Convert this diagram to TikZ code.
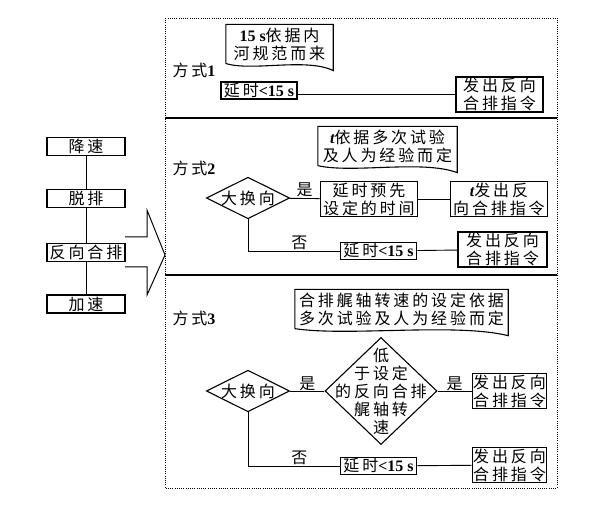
\documentclass[tikz,border=0pt]{standalone}
\usepackage{fontspec}
\setmainfont[LetterSpace=18]{Noto Sans CJK SC}
\newfontfamily\latfont{Liberation Serif}
\newcommand{\lat}[1]{{\latfont\bfseries #1}}
\usetikzlibrary{shapes.geometric, calc}

\tikzset{
  txt/.style={font=\fontsize{16}{18}\selectfont, align=center},
  box/.style={txt, draw, line width=1.3pt, inner xsep=3pt, inner ysep=1pt},
  sbox/.style={box, minimum width=78pt, minimum height=18pt, inner sep=0pt},
  decision/.style={draw, diamond, line width=1.1pt, inner sep=0pt},
  doc/.style={txt, minimum width=#1, inner ysep=3pt},
  link/.style={line width=0.9pt},
  frame/.style={line width=0.9pt, dash pattern=on 1pt off 1.2pt},
}

% outline of a document box (wavy bottom)
\newcommand{\docedge}[1]{%
  \draw[line width=1.1pt] (#1.south west) -- (#1.north west) -- (#1.north east)
    -- ([yshift=-7pt]#1.south east)
    .. controls ([yshift=6pt]$(#1.south)!0.5!(#1.south east)$)
    and ([yshift=-8pt]$(#1.south)!0.5!(#1.south west)$) .. (#1.south west);}

\begin{document}
\begin{tikzpicture}[x=1pt, y=-1pt]
\useasboundingbox (0,0) rectangle (595,505);

% steps of the manoeuvre
\node[sbox] (dec) at (86,146.5) {降速};
\node[sbox] (off) at (86,198.5) {脱排};
\node[sbox] (rev) at (86,252.5) {反向合排};
\node[sbox] (acc) at (86,304) {加速};
\draw[link] (dec) -- (off);
\draw[link] (off) -- (rev);
\draw[link] (rev) -- (acc);

% big arrow
\draw[line width=1pt] (125,237) -- (147,237) -- (147,210) -- (165,255)
  -- (147,295) -- (147,267) -- (125,267);

% frame
\draw[frame] (165,18) rectangle (557,488);
\draw[line width=1.5pt] (165,118) -- (557,118);
\draw[line width=1.5pt] (165,275) -- (557,275);

% Mode 1
\node[txt] (m1) at (194,70) {方式\lat{1}};
\node[doc=107pt] (n1) at (279.5,44) {\lat{15 s}依据内\\河规范而来};
\docedge{n1}
\node[box] (d1) at (259,90.5) {延时\lat{<15 s}};
\node[box, minimum width=87pt] (o1) at (499.5,94.5) {发出反向\\合排指令};
\draw[link] (o1.west) -- (o1.west -| d1.east);

% Mode 2
\node[txt] (m2) at (194,168) {方式\lat{2}};
\node[doc=139pt] (n2) at (387.5,146) {\lat{\itshape t}依据多次试验\\及人为经验而定};
\docedge{n2}
\node[decision, txt, aspect=2] (q2) at (248,198) {大换向};
\node[box] (p2) at (369,199) {延时预先\\设定的时间};
\node[box] (s2) at (499,199) {\lat{\itshape t}发出反\\向合排指令};
\draw[link] (q2) -- node[txt, above, inner sep=1pt] {是} (p2);
\draw[link] (p2) -- (s2);
\node[box] (d2) at (378.5,251) {延时\lat{<15 s}};
\node[box, minimum width=89pt] (o2) at (502.5,249.5) {发出反向\\合排指令};
\draw[link] (q2.south) |- node[txt, pos=0.78, above, inner sep=1pt] {否} (d2.west);
\draw[link] (d2) -- (o2);

% Mode 3
\node[txt] (m3) at (194,318) {方式\lat{3}};
\node[doc=213pt] (n3) at (401.5,309) {合排艉轴转速的设定依据\\多次试验及人为经验而定};
\docedge{n3}
\node[decision, txt, aspect=2] (q3) at (248,391) {大换向};
\node[decision, minimum width=112pt, minimum height=107pt,
  label={[txt]center:低\\于设定\\的反向合排\\艉轴转\\速}] (spd) at (381,391) {};
\node[box, inner xsep=1pt] (o3) at (509.5,391) {发出反向\\合排指令};
\draw[link] (q3) -- node[txt, above, inner sep=0pt] {是} (spd);
\draw[link] (spd) -- node[txt, above, inner sep=0pt] {是} (o3);
\node[box] (d3) at (378.5,466) {延时\lat{<15 s}};
\node[box, inner xsep=1pt] (o4) at (509.5,465) {发出反向\\合排指令};
\draw[link] (q3.south) |- node[txt, pos=0.78, above, inner sep=1pt] {否} (d3.west);
\draw[link] (d3) -- (o4);
\end{tikzpicture}
\end{document}
